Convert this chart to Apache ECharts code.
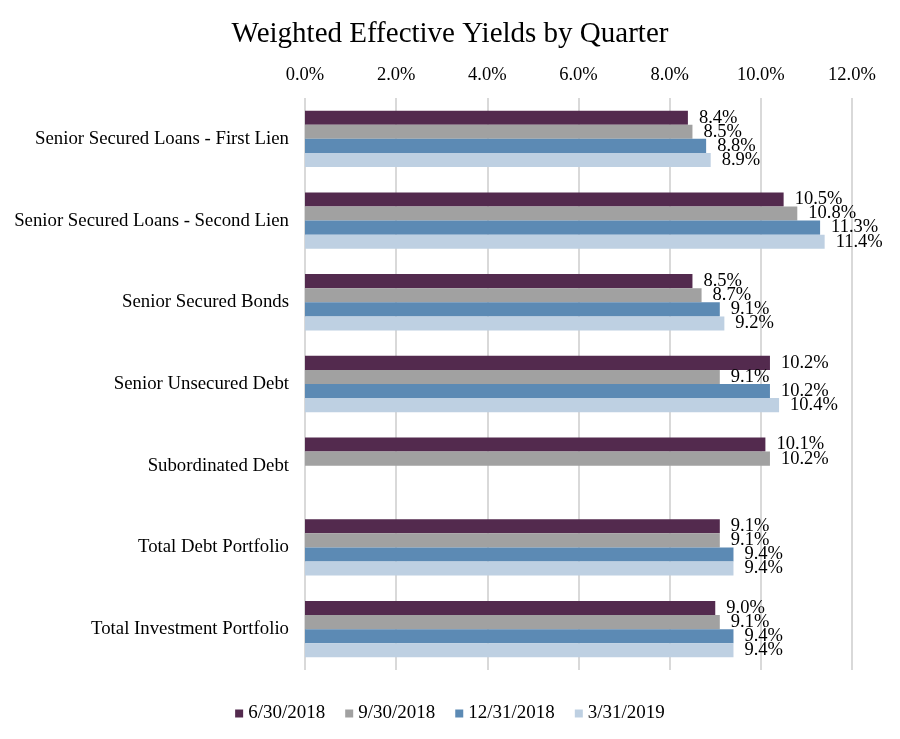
<!DOCTYPE html>
<html>
<head>
<meta charset="utf-8">
<script src="https://cdn.jsdelivr.net/npm/echarts@6/dist/echarts.min.js"></script>
<style>html,body{margin:0;padding:0;background:#fff}#c{width:900px;height:739px}</style>
</head>
<body>
<div id="c"></div>
<script>
const categories = ["Senior Secured Loans - First Lien","Senior Secured Loans - Second Lien","Senior Secured Bonds","Senior Unsecured Debt","Subordinated Debt","Total Debt Portfolio","Total Investment Portfolio"];
const seriesNames = ["6/30/2018","9/30/2018","12/31/2018","3/31/2019"];
const q2018_06 = [8.4, 10.5, 8.5, 10.2, 10.1, 9.1, 9.0];
const q2018_09 = [8.5, 10.8, 8.7, 9.1, 10.2, 9.1, 9.1];
const q2018_12 = [8.8, 11.3, 9.1, 10.2, null, 9.4, 9.4];
const q2019_03 = [8.9, 11.4, 9.2, 10.4, null, 9.4, 9.4];
const xTicks = [0, 2, 4, 6, 8, 10, 12];
const colors = ["#532a4e", "#a1a1a1", "#5c8ab4", "#bed0e2"];

const font = "'Liberation Serif', 'Times New Roman', serif";
const values = [q2018_06, q2018_09, q2018_12, q2019_03];
const chart = echarts.init(document.getElementById('c'));
chart.setOption({
  animation: false,
  textStyle: {fontFamily: font},
  title: {
    text: "Weighted Effective Yields by Quarter",
    left: 'center', top: 15,
    textStyle: {fontFamily: font, fontSize: 29, fontWeight: 'normal', color: '#000'}
  },
  legend: {
    bottom: 11, left: 'center',
    itemWidth: 8, itemHeight: 8, itemGap: 20,
    icon: 'rect',
    textStyle: {fontFamily: font, fontSize: 19, color: '#000'},
    data: seriesNames
  },
  grid: {left: 305, right: 48, top: 98, height: 572, containLabel: false},
  xAxis: {
    type: 'value', position: 'top',
    min: xTicks[0], max: xTicks[xTicks.length - 1], interval: 2,
    axisLine: {show: false}, axisTick: {show: false},
    axisLabel: {fontFamily: font, fontSize: 18.5, color: '#000', margin: 13,
      formatter: v => v.toFixed(1) + '%'},
    splitLine: {lineStyle: {color: '#d9d9d9', width: 2}}
  },
  yAxis: {
    type: 'category', inverse: true, data: categories,
    axisLine: {show: false}, axisTick: {show: false},
    axisLabel: {fontFamily: font, fontSize: 18.8, color: '#000', margin: 16}
  },
  series: seriesNames.map((name, i) => ({
    name: name, type: 'bar', data: values[i],
    barGap: '0%', barCategoryGap: '31%',
    itemStyle: {color: colors[i]},
    label: {show: true, position: 'right', distance: 11,
      fontFamily: font, fontSize: 18.5, color: '#000',
      formatter: p => p.value == null ? '' : p.value.toFixed(1) + '%'}
  }))
});
</script>
</body>
</html>
